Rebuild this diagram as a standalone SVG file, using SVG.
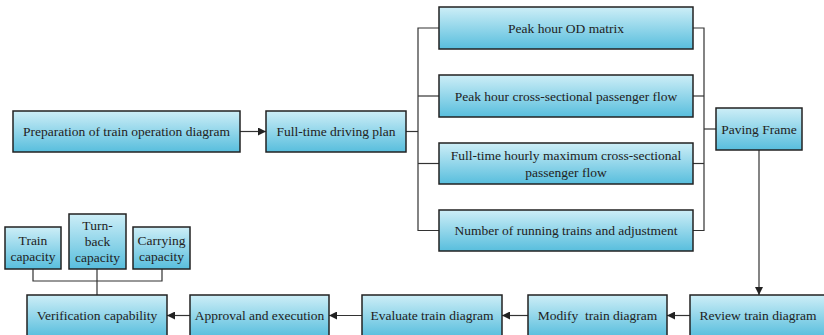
<svg xmlns="http://www.w3.org/2000/svg" width="824" height="335" viewBox="0 0 824 335">
<defs>
<linearGradient id="g" x1="0" y1="0" x2="0" y2="1">
<stop offset="0" stop-color="#cdeef7"/>
<stop offset="1" stop-color="#58bedd"/>
</linearGradient>
<marker id="ah" viewBox="0 0 10 10" refX="10" refY="5" markerWidth="8" markerHeight="8" markerUnits="userSpaceOnUse" orient="auto">
<path d="M0,0 L10,5 L0,10 z" fill="#222"/>
</marker>
</defs>
<style>
rect{fill:url(#g);stroke:#222;stroke-width:1.5}
text{font-family:'Liberation Serif',serif;font-size:13.5px;fill:#222;text-anchor:middle;dominant-baseline:central}
.c{fill:none;stroke:#333;stroke-width:1.2}
</style>
<rect x="0" y="0" width="824" height="335" style="fill:#fff;stroke:none"/>
<g id="connectors">
<line class="c" x1="240" y1="131.5" x2="266" y2="131.5" marker-end="url(#ah)"/>
<line class="c" x1="406" y1="131.5" x2="418" y2="131.5"/>
<polyline class="c" points="439,28 418,28 418,230.5 439,230.5"/>
<line class="c" x1="418" y1="96" x2="439" y2="96"/>
<line class="c" x1="418" y1="163.5" x2="439" y2="163.5"/>
<polyline class="c" points="693,28 704,28 704,230.5 693,230.5"/>
<line class="c" x1="693" y1="96" x2="704" y2="96"/>
<line class="c" x1="693" y1="163.5" x2="704" y2="163.5"/>
<line class="c" x1="704" y1="129" x2="716" y2="129"/>
<line class="c" x1="759" y1="150" x2="759" y2="295" marker-end="url(#ah)"/>
<line class="c" x1="690" y1="315.5" x2="667" y2="315.5" marker-end="url(#ah)"/>
<line class="c" x1="528" y1="315.5" x2="502" y2="315.5" marker-end="url(#ah)"/>
<line class="c" x1="362" y1="315.5" x2="329" y2="315.5" marker-end="url(#ah)"/>
<line class="c" x1="190" y1="315.5" x2="167" y2="315.5" marker-end="url(#ah)"/>
<polyline class="c" points="33,269 33,281 162,281 162,269"/>
<line class="c" x1="97" y1="269" x2="97" y2="295"/>
</g>
<g id="n1"><rect x="13" y="111" width="227" height="41"/><text x="126.5" y="131.5">Preparation of train operation diagram</text></g>
<g id="n2"><rect x="266" y="111" width="140" height="41"/><text x="336" y="131.5">Full-time driving plan</text></g>
<g id="n3"><rect x="439" y="7" width="254" height="42"/><text x="566" y="28">Peak hour OD matrix</text></g>
<g id="n4"><rect x="439" y="75" width="254" height="42"/><text x="566" y="96">Peak hour cross-sectional passenger flow</text></g>
<g id="n5"><rect x="439" y="143" width="254" height="41"/><text x="566" y="155">Full-time hourly maximum cross-sectional</text><text x="566" y="172">passenger flow</text></g>
<g id="n6"><rect x="439" y="210" width="254" height="41"/><text x="566" y="230.5">Number of running trains and adjustment</text></g>
<g id="n7"><rect x="716" y="108" width="86" height="42"/><text x="759" y="129">Paving Frame</text></g>
<g id="n8"><rect x="690" y="295" width="140" height="42"/><text x="758" y="315.5">Review train diagram</text></g>
<g id="n9"><rect x="528" y="295" width="139" height="42"/><text x="597.5" y="315.5" xml:space="preserve">Modify  train diagram</text></g>
<g id="n10"><rect x="362" y="295" width="140" height="42"/><text x="432" y="315.5">Evaluate train diagram</text></g>
<g id="n11"><rect x="190" y="295" width="139" height="42"/><text x="259.5" y="315.5">Approval and execution</text></g>
<g id="n12"><rect x="27" y="295" width="140" height="42"/><text x="97" y="315.5">Verification capability</text></g>
<g id="n13"><rect x="5" y="227" width="56" height="42"/><text x="33" y="240">Train</text><text x="33" y="256">capacity</text></g>
<g id="n14"><rect x="69" y="214" width="57" height="55"/><text x="97.5" y="225">Turn-</text><text x="97.5" y="241">back</text><text x="97.5" y="257">capacity</text></g>
<g id="n15"><rect x="133" y="227" width="57" height="42"/><text x="161.5" y="240">Carrying</text><text x="161.5" y="256">capacity</text></g>
</svg>
